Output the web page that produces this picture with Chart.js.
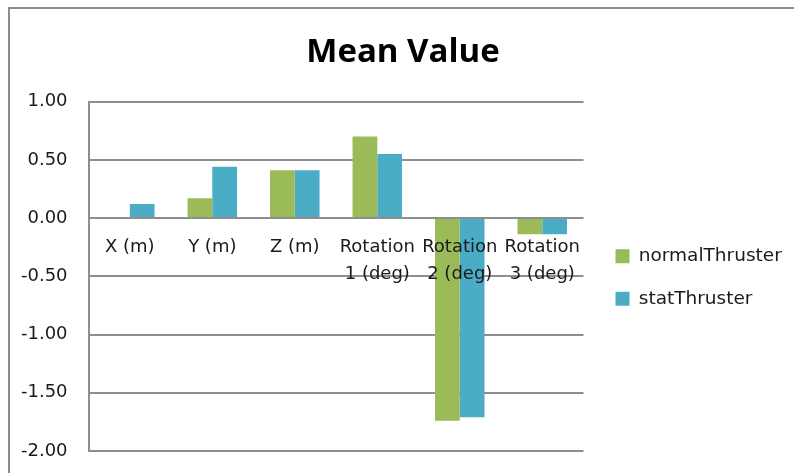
<!DOCTYPE html>
<html>
<head>
<meta charset="utf-8">
<style>
  html, body { margin: 0; padding: 0; background: #ffffff; }
  #wrap { width: 794px; height: 473px; position: relative; }
</style>
<script src="https://cdn.jsdelivr.net/npm/chart.js@4/dist/chart.umd.min.js"></script>
</head>
<body>
<div id="wrap"><canvas id="chart" width="794" height="473"></canvas></div>
<script>
// Categories (multi-line labels for the rotation axes)
const categories = [
  "X (m)",
  "Y (m)",
  "Z (m)",
  ["Rotation", "1 (deg)"],
  ["Rotation", "2 (deg)"],
  ["Rotation", "3 (deg)"]
];

// Mean values per thruster configuration
const normalThruster = [0.00, 0.17, 0.41, 0.70, -1.74, -0.14];
const statThruster   = [0.12, 0.44, 0.41, 0.55, -1.71, -0.14];

// Value axis range and step
const yMin = -2.0;
const yMax = 1.0;
const yStep = 0.5;

const GRID = '#8e8e8e';
const TEXT = '#1a1a1a';
const BASE_FONT = 'DejaVu Sans';

// White background and the outer frame of the chart object
const framePlugin = {
  id: 'frame',
  beforeDraw(chart) {
    const ctx = chart.ctx;
    ctx.save();
    ctx.fillStyle = '#ffffff';
    ctx.fillRect(0, 0, chart.width, chart.height);
    ctx.strokeStyle = '#8c8c8c';
    ctx.lineWidth = 2;
    ctx.strokeRect(9, 8, chart.width + 20, chart.height + 20);
    ctx.restore();
  }
};

// Nudge the title and legend blocks after layout
const blockOffsets = {
  id: 'blockOffsets',
  afterLayout(chart) {
    const lg = chart.legend;
    if (lg) {
      lg.left += 8; lg.right += 8;
      lg.top += 52; lg.bottom += 52;
    }
    const tb = chart.titleBlock;
    if (tb) { tb.left += 14; tb.right += 14; }
  }
};

new Chart(document.getElementById('chart'), {
  type: 'bar',
  data: {
    labels: categories,
    datasets: [
      { label: 'normalThruster', data: normalThruster, backgroundColor: '#9bbb59', borderWidth: 0 },
      { label: 'statThruster',   data: statThruster,   backgroundColor: '#4bacc6', borderWidth: 0 }
    ]
  },
  options: {
    responsive: false,
    animation: false,
    devicePixelRatio: 1,
    layout: { padding: { left: 0, right: 16, top: 0, bottom: 22 } },
    datasets: {
      bar: { categoryPercentage: 0.6, barPercentage: 1.0 }
    },
    scales: {
      x: {
        position: { y: 0 },
        grid: { display: false, drawTicks: false },
        border: { display: false },
        ticks: {
          z: 1,
          autoSkip: false,
          maxRotation: 0,
          minRotation: 0,
          padding: 16,
          color: TEXT,
          font: { family: BASE_FONT, size: 18, lineHeight: 1.5 }
        }
      },
      y: {
        min: yMin,
        max: yMax,
        grid: { color: GRID, lineWidth: 2, drawTicks: false },
        border: { display: true, color: GRID, width: 2 },
        ticks: {
          stepSize: yStep,
          padding: 21,
          color: TEXT,
          font: { family: BASE_FONT, size: 18 },
          callback: (v) => Number(v).toFixed(2)
        },
        // only half a label of overflow above/below the plot
        afterFit(scale) {
          scale.paddingTop = 11;
          scale.paddingBottom = 11;
        }
      }
    },
    plugins: {
      title: {
        display: true,
        text: 'Mean Value',
        color: '#000000',
        font: { family: 'Open Sans', size: 33, weight: 'bold', lineHeight: 1.2 },
        padding: { top: 33, bottom: 29 }
      },
      legend: {
        position: 'right',
        align: 'center',
        labels: {
          boxWidth: 14,
          boxHeight: 14,
          padding: 24,
          color: TEXT,
          font: { family: BASE_FONT, size: 18.5 }
        }
      },
      tooltip: { enabled: false }
    }
  },
  plugins: [framePlugin, blockOffsets]
});
</script>
</body>
</html>
